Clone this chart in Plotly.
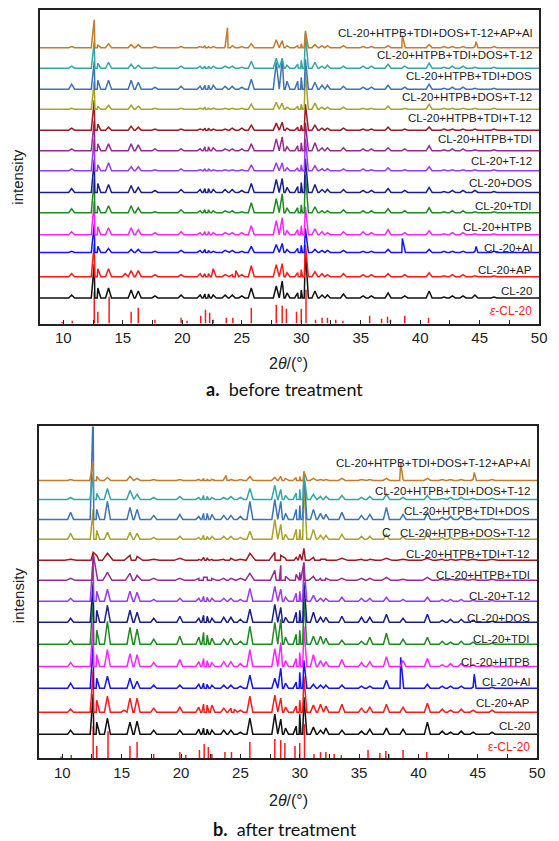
import plotly.graph_objects as go

# ---------------- data (intensities in arbitrary units) ----------------
TWO_THETA = [10.7, 12.6, 12.9, 13.8, 15.7, 16.3, 17.7, 19.9, 21.5, 21.9, 22.2, 22.6,
             23.6, 24.2, 25.0, 25.8, 27.9, 28.4, 28.8, 29.7, 30.0, 30.35, 31.15, 31.75,
             32.2, 33.55, 35.2, 35.9, 37.3, 38.7, 40.75, 42.0, 42.7, 43.6, 44.6, 46.2]

SAMPLES = ["CL-20", "CL-20+AP", "CL-20+Al", "CL-20+HTPB", "CL-20+TDI", "CL-20+DOS",
           "CL-20+T-12", "CL-20+HTPB+TDI", "CL-20+HTPB+TDI+T-12", "CL-20+HTPB+DOS+T-12",
           "CL-20+HTPB+TDI+DOS", "CL-20+HTPB+TDI+DOS+T-12", "CL-20+HTPB+TDI+DOS+T-12+AP+Al"]

# vertical offsets of each pattern (stacking)
OFFSET_A = [25.7, 47, 71.3, 89, 111, 131.3, 153, 173, 193.7, 214.7, 234.7, 255.7, 276.3]
OFFSET_B = [24, 46, 70, 91.6, 114, 136, 157, 178, 198, 219, 239, 259, 278]

# ---- (a) before treatment: peak intensities at TWO_THETA ----
A_CL20 = [3, 34, 10, 10, 8, 7, 2, 3, 3, 4, 4, 3, 3, 3, 2, 10, 12, 17, 5, 5, 8, 48, 7, 3, 3, 4, 2, 2, 5, 2, 7, 1, 2, 2, 3, 1]
A_AP = [3, 33, 8, 8, 6, 6, 2, 2, 3, 3, 3, 8, 2, 2, 2, 11, 12, 13, 4, 4, 7, 32, 5, 3, 2, 3, 2, 2, 3, 2, 4, 1, 2, 2, 1, 1]
A_AL = [1, 28, 6, 4, 3, 3, 1, 2, 2, 3, 2, 1, 2, 2, 1, 6, 8, 9, 3, 4, 7, 24, 3, 2, 2, 2, 1, 1, 3, 1, 3, 1, 1, 1, 1, 1]
A_HTPB = [3, 34, 8, 7, 7, 5, 2, 3, 2, 3, 3, 2, 2, 2, 2, 9, 14, 17, 4, 5, 9, 28, 6, 3, 2, 3, 3, 2, 5, 2, 4, 1, 2, 2, 1, 1]
A_TDI = [4, 34, 7, 7, 7, 5, 1, 3, 2, 3, 3, 2, 2, 2, 1, 10, 14, 19, 5, 5, 8, 38, 6, 2, 2, 3, 2, 2, 4, 2, 5, 1, 2, 2, 1, 1]
A_DOS = [4, 33, 9, 8, 7, 5, 2, 3, 3, 4, 4, 3, 3, 3, 2, 9, 13, 14, 5, 6, 10, 34, 8, 3, 3, 3, 2, 2, 4, 2, 5, 1, 2, 2, 2, 1]
A_T12 = [2, 32, 6, 8, 4, 4, 1, 2, 1, 2, 2, 1, 1, 1, 1, 6, 8, 8, 3, 3, 6, 32, 5, 2, 2, 2, 2, 1, 3, 1, 4, 1, 1, 1, 1, 1]
A_HTPB_TDI = [2, 30, 7, 7, 7, 6, 2, 2, 2, 4, 4, 3, 2, 2, 2, 7, 12, 14, 4, 5, 8, 28, 8, 3, 3, 3, 2, 2, 3, 2, 5, 1, 2, 2, 1, 1]
A_HTPB_TDI_T12 = [2, 30, 6, 3, 4, 3, 1, 1, 1, 2, 2, 1, 1, 2, 2, 5, 7, 8, 2, 3, 5, 26, 5, 2, 2, 2, 1, 1, 3, 1, 3, 1, 1, 1, 1, 1]
A_HTPB_DOS_T12 = [1, 28, 3, 4, 4, 3, 1, 1, 1, 2, 1, 1, 1, 1, 1, 5, 7, 6, 2, 3, 5, 37, 6, 2, 2, 2, 1, 1, 3, 1, 5, 1, 1, 1, 1, 1]
A_HTPB_TDI_DOS = [5, 28, 9, 9, 9, 7, 2, 3, 3, 4, 4, 4, 3, 3, 2, 10, 27, 30, 8, 8, 12, 30, 7, 4, 4, 3, 2, 2, 4, 2, 5, 1, 2, 2, 1, 1]
A_HTPB_TDI_DOS_T12 = [2, 27, 5, 6, 4, 3, 1, 2, 2, 2, 2, 2, 2, 2, 1, 7, 10, 10, 3, 4, 8, 35, 6, 2, 3, 2, 2, 2, 4, 2, 5, 1, 2, 2, 1, 1]
A_FULL = [1, 28, 3, 4, 3, 3, 1, 1, 1, 2, 1, 1, 1, 2, 1, 4, 8, 7, 2, 2, 4, 17, 3, 2, 2, 2, 1, 1, 2, 1, 3, 1, 1, 1, 1, 1]

# ---- (b) after treatment ----
B_CL20 = [4, 40, 12, 16, 12, 13, 4, 4, 5, 6, 5, 4, 4, 4, 2, 16, 20, 15, 6, 8, 20, 37, 7, 4, 6, 4, 3, 5, 6, 5, 12, 3, 2, 3, 2, 2]
B_AP = [3, 42, 12, 16, 14, 14, 4, 5, 5, 8, 7, 7, 4, 4, 2, 16, 17, 14, 5, 6, 12, 36, 7, 8, 6, 8, 4, 5, 8, 5, 9, 3, 2, 3, 2, 2]
B_AL = [5, 45, 10, 12, 10, 7, 3, 3, 4, 5, 4, 3, 3, 3, 2, 13, 10, 20, 5, 6, 16, 28, 4, 3, 3, 3, 2, 2, 8, 3, 4, 2, 2, 2, 1, 1]
B_HTPB = [4, 45, 12, 17, 13, 12, 4, 7, 5, 8, 6, 4, 5, 5, 3, 17, 18, 24, 6, 8, 14, 40, 12, 6, 5, 7, 4, 5, 10, 6, 8, 2, 3, 3, 2, 1]
B_TDI = [4, 50, 14, 23, 17, 15, 5, 8, 7, 12, 9, 6, 5, 6, 3, 18, 22, 25, 7, 10, 14, 45, 8, 8, 6, 4, 3, 7, 11, 5, 7, 3, 2, 3, 2, 1]
B_DOS = [4, 40, 12, 17, 12, 10, 4, 6, 4, 7, 6, 4, 5, 5, 3, 13, 18, 15, 5, 10, 12, 40, 10, 5, 5, 6, 5, 5, 8, 4, 8, 2, 3, 3, 2, 1]
B_T12 = [3, 44, 10, 12, 10, 9, 2, 3, 3, 5, 4, 3, 3, 3, 2, 13, 15, 12, 4, 8, 10, 38, 6, 3, 3, 4, 3, 3, 4, 2, 4, 2, 2, 2, 1, 1]
B_HTPB_TDI = [2, 27, 8, 8, 7, 5, 2, 2, 2, 3, 3, 2, 2, 2, 2, 7, 10, 15, 4, 6, 8, 18, 4, 2, 2, 2, 2, 2, 3, 1, 3, 1, 1, 1, 1, 1]
B_HTPB_TDI_T12 = [1, 8, 5, 7, 5, 4, 1, 2, 1, 3, 2, 1, 1, 2, 1, 7, 8, 5, 2, 3, 6, 12, 3, 1, 1, 2, 1, 1, 2, 1, 2, 1, 1, 1, 1, 1]
B_HTPB_DOS_T12 = [6, 30, 9, 7, 7, 6, 2, 3, 2, 4, 3, 3, 3, 3, 2, 8, 20, 15, 5, 10, 10, 57, 10, 4, 4, 5, 3, 3, 5, 3, 7, 2, 2, 2, 1, 1]
B_HTPB_TDI_DOS = [7, 110, 10, 18, 12, 10, 4, 5, 3, 6, 6, 5, 4, 4, 3, 18, 20, 18, 6, 10, 14, 48, 10, 6, 5, 7, 4, 5, 12, 5, 7, 2, 3, 3, 2, 1]
B_HTPB_TDI_DOS_T12 = [2, 25, 6, 11, 9, 5, 2, 3, 2, 4, 3, 2, 2, 3, 2, 11, 14, 10, 4, 6, 10, 25, 5, 3, 3, 4, 2, 3, 5, 2, 4, 1, 2, 2, 1, 1]
B_FULL = [1, 19, 4, 3, 4, 2, 1, 1, 1, 2, 1, 1, 1, 1, 1, 4, 3, 4, 2, 3, 4, 9, 2, 1, 1, 2, 1, 1, 2, 1, 2, 1, 1, 1, 1, 1]

# additional (non CL-20) reflections
AP_EXTRA_POS = [15.2, 24.5]
A_AP_EXTRA = [3, 6]
B_AP_EXTRA = [2, 3]
AL_EXTRA_POS = [38.5, 44.7]
A_AL_EXTRA = [14, 6]
B_AL_EXTRA = [31, 14]
FULL_EXTRA_POS = [23.8, 38.5, 44.7]
A_FULL_EXTRA = [20, 12, 6]
B_FULL_EXTRA = [5, 18, 8]

# epsilon-CL-20 reference sticks
REF_POS = [9.9, 10.75, 12.6, 12.9, 13.85, 15.7, 16.3, 17.7, 19.9, 20.4, 21.55, 21.95, 22.3,
           22.6, 23.7, 24.25, 25.8, 27.9, 28.4, 28.75, 29.6, 30.0, 30.4, 31.2, 31.75, 32.2,
           32.9, 33.5, 35.75, 36.75, 37.25, 37.5, 38.7, 40.7]
REF_H = [1.5, 3, 32, 12, 27, 12, 16, 4, 6, 3, 8, 14, 11, 4, 6, 6, 16, 19, 18, 15, 12, 15, 34,
         4, 6, 6, 4, 3, 8, 5, 7, 4, 8, 6]

X_TICKS = [10, 15, 20, 25, 30, 35, 40, 45, 50]

# ---------------- styling / layout ----------------
COLORS = ["#111111", "#FF1A1A", "#1414FF", "#FF22FF", "#1E8B22", "#1B1F8E", "#9B38F5",
          "#952A92", "#9E1A22", "#A8A22A", "#3E73B8", "#35A6A6", "#C27C2C"]

A_SETS = [(A_CL20, [], []), (A_AP, AP_EXTRA_POS, A_AP_EXTRA), (A_AL, AL_EXTRA_POS, A_AL_EXTRA),
          (A_HTPB, [], []), (A_TDI, [], []), (A_DOS, [], []), (A_T12, [], []),
          (A_HTPB_TDI, [], []), (A_HTPB_TDI_T12, [], []), (A_HTPB_DOS_T12, [], []),
          (A_HTPB_TDI_DOS, [], []), (A_HTPB_TDI_DOS_T12, [], []),
          (A_FULL, FULL_EXTRA_POS, A_FULL_EXTRA)]
B_SETS = [(B_CL20, [], []), (B_AP, AP_EXTRA_POS, B_AP_EXTRA), (B_AL, AL_EXTRA_POS, B_AL_EXTRA),
          (B_HTPB, [], []), (B_TDI, [], []), (B_DOS, [], []), (B_T12, [], []),
          (B_HTPB_TDI, [], []), (B_HTPB_TDI_T12, [], []), (B_HTPB_DOS_T12, [], []),
          (B_HTPB_TDI_DOS, [], []), (B_HTPB_TDI_DOS_T12, [], []),
          (B_FULL, FULL_EXTRA_POS, B_FULL_EXTRA)]

HALF_W_A = [0.25] * 13
HALF_W_B = [0.25, 0.25, 0.25, 0.25, 0.25, 0.25, 0.25, 0.38, 0.48, 0.25, 0.25, 0.27, 0.28]

LABEL_DY_A = [7, 7, 4, 8, 7, 9, 10, 12, 12, 12, 13, 13, 15]
LABEL_DY_B = [8, 9, 6, 5, 5, 4, 5, 5, 6, 6, 8, 8, 17]

LABEL_FONT = "Liberation Sans, Arial, sans-serif"
AX_FONT = "Liberation Sans, Arial, sans-serif"

# the page body has an 8 px margin: figure is laid out in page pixels minus that
PAGE_PAD = 8
W, H = 559 - PAGE_PAD, 841 - PAGE_PAD


def px_x(px):
    return (px - PAGE_PAD) / W


def px_y(py):
    return 1 - (py - PAGE_PAD) / H


def pattern_path(base, heights, xpos, xh, w):
    pts = [(8.0, base), (50.0, base)]
    for p, h in zip(TWO_THETA + xpos, heights + xh):
        pts += [(p - w, base), (p, base + h), (p + w, base)]
    pts.sort()
    return [q[0] for q in pts], [q[1] for q in pts]


fig = go.Figure()

for sets, offs, widths, xa, ya in [(A_SETS, OFFSET_A, HALF_W_A, "x", "y"),
                                   (B_SETS, OFFSET_B, HALF_W_B, "x2", "y2")]:
    sx, sy = [], []
    for p, h in zip(REF_POS, REF_H):
        sx += [p, p, None]
        sy += [0, h, None]
    fig.add_trace(go.Scatter(x=sx, y=sy, mode="lines", line=dict(color="#FF1A1A", width=1.5),
                             xaxis=xa, yaxis=ya, showlegend=False, hoverinfo="skip"))
    for i, (hs, xp, xh) in enumerate(sets):
        px, py = pattern_path(offs[i], hs, xp, xh, widths[i])
        fig.add_trace(go.Scatter(x=px, y=py, mode="lines",
                                 line=dict(color=COLORS[i], width=1.5),
                                 xaxis=xa, yaxis=ya, showlegend=False, name=SAMPLES[i]))

annotations = []
for offs, dys, xr, yr in [(OFFSET_A, LABEL_DY_A, "x", "y"), (OFFSET_B, LABEL_DY_B, "x2", "y2")]:
    for i, name in enumerate(SAMPLES):
        annotations.append(dict(x=49.55, y=offs[i] + dys[i], xref=xr, yref=yr, text=name,
                                showarrow=False, xanchor="right", yanchor="middle",
                                font=dict(family=LABEL_FONT, size=11.5, color="#222222")))
annotations.append(dict(x=49.55, y=13, xref="x", yref="y", text="<i>ε</i>-CL-20",
                        showarrow=False, xanchor="right", yanchor="middle",
                        font=dict(family=LABEL_FONT, size=12, color="#FF1A1A")))
annotations.append(dict(x=49.55, y=11, xref="x2", yref="y2", text="ε-CL-20",
                        showarrow=False, xanchor="right", yanchor="middle",
                        font=dict(family=LABEL_FONT, size=12, color="#FF1A1A")))
annotations.append(dict(x=37.3, y=225, xref="x2", yref="y2", text="C", showarrow=False,
                        xanchor="center", yanchor="middle",
                        font=dict(family=LABEL_FONT, size=12, color="#222222")))

for ycen_title, ycen_int, ycap, cap in [(363, 176, 388, "<b>a.</b>  before treatment"),
                                        (800, 595, 829, "<b>b.</b>  after treatment")]:
    annotations.append(dict(x=px_x(293), y=px_y(ycen_title), xref="paper", yref="paper",
                            text="2<i>θ</i>/(°)", showarrow=False, xanchor="center",
                            yanchor="middle", font=dict(family=AX_FONT, size=16, color="#222")))
    annotations.append(dict(x=px_x(18), y=px_y(ycen_int), xref="paper", yref="paper",
                            text="intensity", textangle=-90, showarrow=False, xanchor="center",
                            yanchor="middle", font=dict(family=AX_FONT, size=15, color="#222")))
    annotations.append(dict(x=px_x(289), y=px_y(ycap), xref="paper", yref="paper",
                            text=cap, showarrow=False, xanchor="center", yanchor="middle",
                            font=dict(family="Lato, Open Sans, sans-serif", size=18,
                                      color="#111")))

xcommon = dict(range=[8, 50], tickvals=X_TICKS, ticks="inside", ticklen=4, tickwidth=1.2,
               tickcolor="#222", showline=True, linecolor="#222", linewidth=1.6, mirror=True,
               showgrid=False, zeroline=False,
               tickfont=dict(family=AX_FONT, size=15, color="#222"),
               minor=dict(dtick=2.5, tick0=7.5, ticks="inside", ticklen=4, tickwidth=1.2,
                          tickcolor="#222", showgrid=False))
ycommon = dict(showticklabels=False, ticks="", showline=True, linecolor="#222", linewidth=1.6,
               mirror=True, showgrid=False, zeroline=False)

fig.update_layout(
    width=W, height=H, autosize=False,
    margin=dict(l=0, r=0, t=0, b=0),
    paper_bgcolor="white", plot_bgcolor="white",
    xaxis=dict(domain=[px_x(40), px_x(547)], anchor="y", **xcommon),
    yaxis=dict(domain=[px_y(323), px_y(9)], anchor="x", range=[0, 314], **ycommon),
    xaxis2=dict(domain=[px_x(39), px_x(545)], anchor="y2", **xcommon),
    yaxis2=dict(domain=[px_y(758), px_y(426)], anchor="x2", range=[0, 332], **ycommon),
    annotations=annotations,
)

fig.write_html("out.html")
